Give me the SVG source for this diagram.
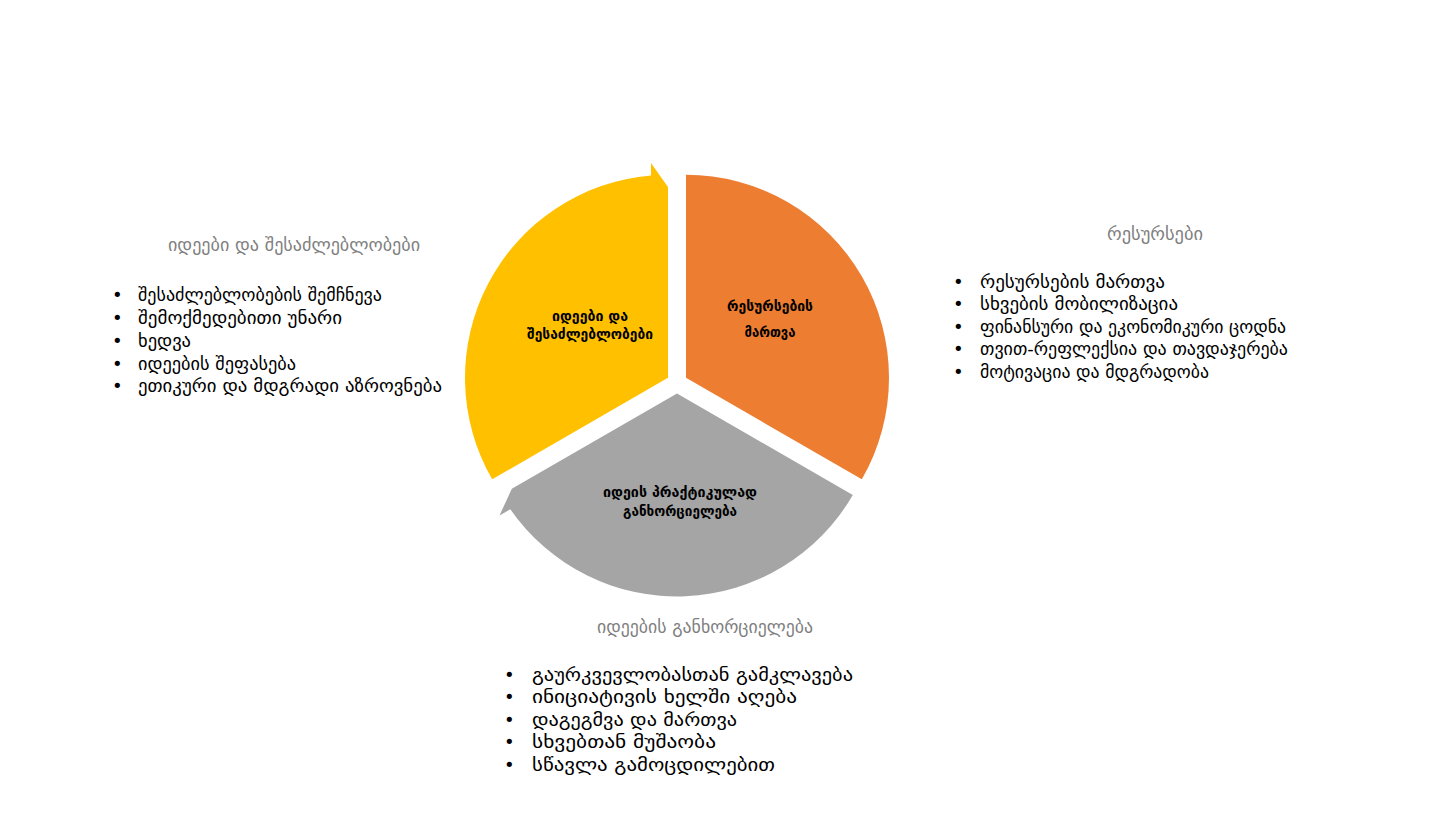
<svg xmlns="http://www.w3.org/2000/svg" width="1431" height="813" viewBox="0 0 1431 813">
<style>
.seg-label{font-family:"DejaVu Sans","Noto Sans",sans-serif;font-size:13.5px;font-weight:bold;fill:#000;text-anchor:middle}
.head{font-family:"DejaVu Sans","Noto Sans",sans-serif;font-size:17.5px;fill:#7f7f7f;text-anchor:middle}
.item text{font-family:"DejaVu Sans","Noto Sans",sans-serif;font-size:18px;fill:#000}
</style>
<rect width="1431" height="813" fill="#fff"/>
<g id="seg-ideas">
<path d="M668,377.8 L492.2,479.3 A203,203 0 0 1 651,175.5 L651,163 L668,187 Z" fill="#FFC000"/>
<text class="seg-label" x="590" y="321" textLength="76" lengthAdjust="spacingAndGlyphs">იდეები და</text>
<text class="seg-label" x="590" y="339" textLength="126" lengthAdjust="spacingAndGlyphs">შესაძლებლობები</text>
</g>
<g id="seg-resources">
<path d="M686,377.8 L686,174.8 A203,203 0 0 1 861.8,479.3 Z" fill="#ED7D31"/>
<text class="seg-label" x="770" y="311" textLength="86" lengthAdjust="spacingAndGlyphs">რესურსების</text>
<text class="seg-label" x="770" y="337" textLength="51" lengthAdjust="spacingAndGlyphs">მართვა</text>
</g>
<g id="seg-implementation">
<path d="M677,393.4 L852.8,494.9 A203,203 0 0 1 510.3,509.3 L499.5,515.5 L511.8,488.8 Z" fill="#A5A5A5"/>
<text class="seg-label" x="680" y="497" textLength="154" lengthAdjust="spacingAndGlyphs">იდეის პრაქტიკულად</text>
<text class="seg-label" x="680" y="516" textLength="114" lengthAdjust="spacingAndGlyphs">განხორციელება</text>
</g>
<g id="list-ideas">
<text class="head" x="294" y="251" textLength="252" lengthAdjust="spacingAndGlyphs">იდეები და შესაძლებლობები</text>
<g class="item">
<text x="112" y="301">•</text><text x="138" y="301" textLength="244" lengthAdjust="spacingAndGlyphs">შესაძლებლობების შემჩნევა</text>
<text x="112" y="324">•</text><text x="138" y="324" textLength="204" lengthAdjust="spacingAndGlyphs">შემოქმედებითი უნარი</text>
<text x="112" y="347">•</text><text x="138" y="347" textLength="53" lengthAdjust="spacingAndGlyphs">ხედვა</text>
<text x="112" y="370">•</text><text x="138" y="370" textLength="158" lengthAdjust="spacingAndGlyphs">იდეების შეფასება</text>
<text x="112" y="392">•</text><text x="138" y="392" textLength="304" lengthAdjust="spacingAndGlyphs">ეთიკური და მდგრადი აზროვნება</text>
</g>
</g>
<g id="list-resources">
<text class="head" x="1155" y="240" textLength="96" lengthAdjust="spacingAndGlyphs">რესურსები</text>
<g class="item">
<text x="953" y="288">•</text><text x="980" y="288" textLength="185" lengthAdjust="spacingAndGlyphs">რესურსების მართვა</text>
<text x="953" y="310">•</text><text x="980" y="310" textLength="198" lengthAdjust="spacingAndGlyphs">სხვების მობილიზაცია</text>
<text x="953" y="333">•</text><text x="980" y="333" textLength="306" lengthAdjust="spacingAndGlyphs">ფინანსური და ეკონომიკური ცოდნა</text>
<text x="953" y="355">•</text><text x="980" y="355" textLength="308" lengthAdjust="spacingAndGlyphs">თვით-რეფლექსია და თავდაჯერება</text>
<text x="953" y="378">•</text><text x="980" y="378" textLength="229" lengthAdjust="spacingAndGlyphs">მოტივაცია და მდგრადობა</text>
</g>
</g>
<g id="list-implementation">
<text class="head" x="705" y="633" textLength="216" lengthAdjust="spacingAndGlyphs">იდეების განხორციელება</text>
<g class="item">
<text x="504" y="681">•</text><text x="532" y="681" textLength="321" lengthAdjust="spacingAndGlyphs">გაურკვევლობასთან გამკლავება</text>
<text x="504" y="703">•</text><text x="532" y="703" textLength="265" lengthAdjust="spacingAndGlyphs">ინიციატივის ხელში აღება</text>
<text x="504" y="726">•</text><text x="532" y="726" textLength="205" lengthAdjust="spacingAndGlyphs">დაგეგმვა და მართვა</text>
<text x="504" y="748">•</text><text x="532" y="748" textLength="184" lengthAdjust="spacingAndGlyphs">სხვებთან მუშაობა</text>
<text x="504" y="771">•</text><text x="532" y="771" textLength="243" lengthAdjust="spacingAndGlyphs">სწავლა გამოცდილებით</text>
</g>
</g>
</svg>
